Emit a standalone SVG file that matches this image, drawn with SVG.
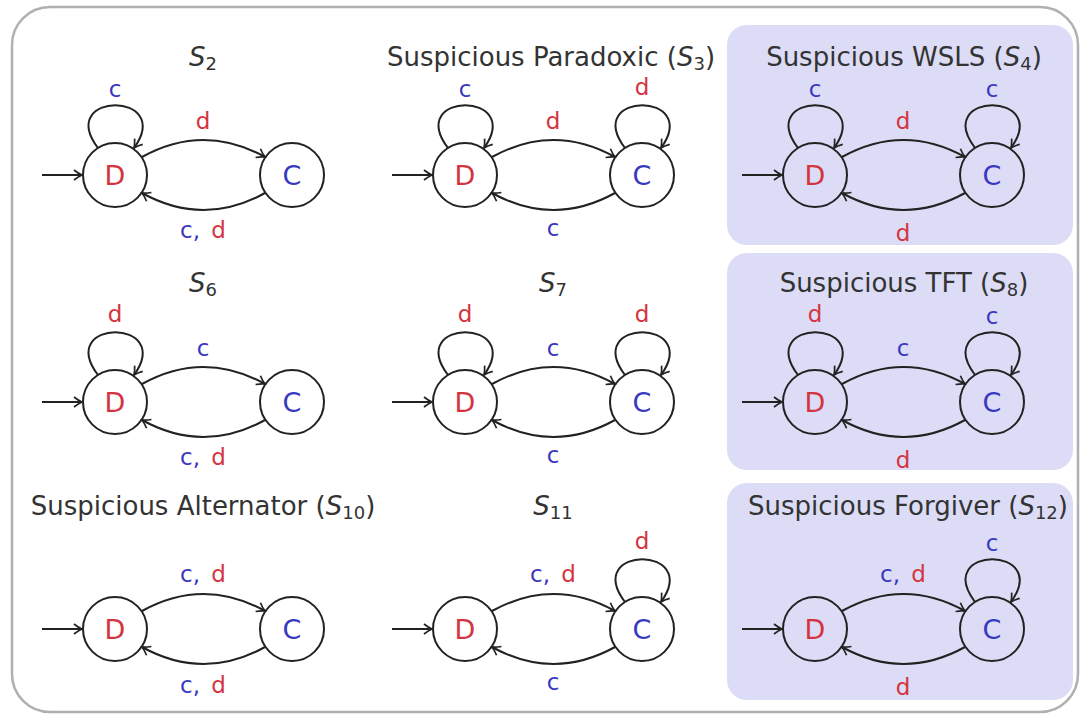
<svg xmlns="http://www.w3.org/2000/svg" width="1087" height="717" viewBox="0 0 1087 717">
<style>
.t{font-family:"DejaVu Sans","Liberation Sans",sans-serif;font-size:26px;fill:#333;text-anchor:middle}
.n{font-family:"DejaVu Sans","Liberation Sans",sans-serif;font-size:27px;text-anchor:middle}
.l{font-family:"DejaVu Sans","Liberation Sans",sans-serif;font-size:23px;text-anchor:middle}
.r{fill:#d4343f}
.b{fill:#3838c0}
.e{fill:none;stroke:#222;stroke-width:2}
.c{fill:none;stroke:#222;stroke-width:2}
.i{font-style:italic}
.box{fill:#dcdcf6}
</style>
<defs>
<marker id="ah" viewBox="-10 -7 12 14" markerWidth="12" markerHeight="14" refX="0" refY="0" orient="auto" markerUnits="userSpaceOnUse">
<path d="M-8,-5 C-4.5,-2.2 -1.7,-0.7 0,0 C-1.7,0.7 -4.5,2.2 -8,5" fill="none" stroke="#222" stroke-width="1.7"/>
</marker>
</defs>
<rect x="12" y="7" width="1066" height="705" rx="38" fill="#fff" stroke="#b0b0b0" stroke-width="2.5"/>
<rect class="box" x="727" y="25" width="346" height="220" rx="20"/>
<rect class="box" x="727" y="253" width="346" height="217" rx="20"/>
<rect class="box" x="727" y="483" width="346" height="217" rx="20"/>

<!-- S2 -->
<g id="s2" transform="translate(115,175)">
<text class="t" x="88" y="-109"><tspan class="i">S</tspan><tspan font-size="18" dy="4">2</tspan></text>
<g id="s2-D"><circle class="c" cx="0" cy="0" r="32"/><text class="n r" x="0" y="10">D</text></g>
<g id="s2-C"><circle class="c" cx="177" cy="0" r="32"/><text class="n b" x="177" y="10">C</text></g>
<g id="s2-edges">
<path class="e" d="M-73,0 L-33,0" marker-end="url(#ah)"/>
<path class="e" d="M-17,-27 C-60,-84 60,-84 19,-27" marker-end="url(#ah)"/>
<path class="e" d="M27,-18 Q88.5,-52 150,-18" marker-end="url(#ah)"/>
<path class="e" d="M150,18 Q88.5,52 27,18" marker-end="url(#ah)"/>
<text class="l b" x="0" y="-78">c</text>
<text class="l r" x="88" y="-46">d</text>
<text class="l" x="88" y="63"><tspan class="b">c, </tspan><tspan class="r" dx="4">d</tspan></text>
</g>
</g>

<!-- S3 -->
<g id="s3" transform="translate(465,175)">
<text class="t" x="86" y="-109">Suspicious Paradoxic (<tspan class="i">S</tspan><tspan font-size="18" dy="4">3</tspan><tspan dy="-4">)</tspan></text>
<g id="s3-D"><circle class="c" cx="0" cy="0" r="32"/><text class="n r" x="0" y="10">D</text></g>
<g id="s3-C"><circle class="c" cx="177" cy="0" r="32"/><text class="n b" x="177" y="10">C</text></g>
<g id="s3-edges">
<path class="e" d="M-73,0 L-33,0" marker-end="url(#ah)"/>
<path class="e" d="M-17,-27 C-60,-84 60,-84 19,-27" marker-end="url(#ah)"/>
<path class="e" d="M160,-27 C117,-84 237,-84 196,-27" marker-end="url(#ah)"/>
<path class="e" d="M27,-18 Q88.5,-52 150,-18" marker-end="url(#ah)"/>
<path class="e" d="M150,18 Q88.5,52 27,18" marker-end="url(#ah)"/>
<text class="l b" x="0" y="-78">c</text>
<text class="l r" x="177" y="-80">d</text>
<text class="l r" x="88" y="-46">d</text>
<text class="l b" x="88" y="61">c</text>
</g>
</g>

<!-- S4 -->
<g id="s4" transform="translate(815,175)">
<text class="t" x="89" y="-109">Suspicious WSLS (<tspan class="i">S</tspan><tspan font-size="18" dy="4">4</tspan><tspan dy="-4">)</tspan></text>
<g id="s4-D"><circle class="c" cx="0" cy="0" r="32"/><text class="n r" x="0" y="10">D</text></g>
<g id="s4-C"><circle class="c" cx="177" cy="0" r="32"/><text class="n b" x="177" y="10">C</text></g>
<g id="s4-edges">
<path class="e" d="M-73,0 L-33,0" marker-end="url(#ah)"/>
<path class="e" d="M-17,-27 C-60,-84 60,-84 19,-27" marker-end="url(#ah)"/>
<path class="e" d="M160,-27 C117,-84 237,-84 196,-27" marker-end="url(#ah)"/>
<path class="e" d="M27,-18 Q88.5,-52 150,-18" marker-end="url(#ah)"/>
<path class="e" d="M150,18 Q88.5,52 27,18" marker-end="url(#ah)"/>
<text class="l b" x="0" y="-78">c</text>
<text class="l b" x="177" y="-78">c</text>
<text class="l r" x="88" y="-46">d</text>
<text class="l r" x="88" y="66">d</text>
</g>
</g>

<!-- S6 -->
<g id="s6" transform="translate(115,402)">
<text class="t" x="88" y="-110"><tspan class="i">S</tspan><tspan font-size="18" dy="4">6</tspan></text>
<g id="s6-D"><circle class="c" cx="0" cy="0" r="32"/><text class="n r" x="0" y="10">D</text></g>
<g id="s6-C"><circle class="c" cx="177" cy="0" r="32"/><text class="n b" x="177" y="10">C</text></g>
<g id="s6-edges">
<path class="e" d="M-73,0 L-33,0" marker-end="url(#ah)"/>
<path class="e" d="M-17,-27 C-60,-84 60,-84 19,-27" marker-end="url(#ah)"/>
<path class="e" d="M27,-18 Q88.5,-52 150,-18" marker-end="url(#ah)"/>
<path class="e" d="M150,18 Q88.5,52 27,18" marker-end="url(#ah)"/>
<text class="l r" x="0" y="-80">d</text>
<text class="l b" x="88" y="-46">c</text>
<text class="l" x="88" y="63"><tspan class="b">c, </tspan><tspan class="r" dx="4">d</tspan></text>
</g>
</g>

<!-- S7 -->
<g id="s7" transform="translate(465,402)">
<text class="t" x="88" y="-110"><tspan class="i">S</tspan><tspan font-size="18" dy="4">7</tspan></text>
<g id="s7-D"><circle class="c" cx="0" cy="0" r="32"/><text class="n r" x="0" y="10">D</text></g>
<g id="s7-C"><circle class="c" cx="177" cy="0" r="32"/><text class="n b" x="177" y="10">C</text></g>
<g id="s7-edges">
<path class="e" d="M-73,0 L-33,0" marker-end="url(#ah)"/>
<path class="e" d="M-17,-27 C-60,-84 60,-84 19,-27" marker-end="url(#ah)"/>
<path class="e" d="M160,-27 C117,-84 237,-84 196,-27" marker-end="url(#ah)"/>
<path class="e" d="M27,-18 Q88.5,-52 150,-18" marker-end="url(#ah)"/>
<path class="e" d="M150,18 Q88.5,52 27,18" marker-end="url(#ah)"/>
<text class="l r" x="0" y="-80">d</text>
<text class="l r" x="177" y="-80">d</text>
<text class="l b" x="88" y="-46">c</text>
<text class="l b" x="88" y="61">c</text>
</g>
</g>

<!-- S8 -->
<g id="s8" transform="translate(815,402)">
<text class="t" x="89" y="-110">Suspicious TFT (<tspan class="i">S</tspan><tspan font-size="18" dy="4">8</tspan><tspan dy="-4">)</tspan></text>
<g id="s8-D"><circle class="c" cx="0" cy="0" r="32"/><text class="n r" x="0" y="10">D</text></g>
<g id="s8-C"><circle class="c" cx="177" cy="0" r="32"/><text class="n b" x="177" y="10">C</text></g>
<g id="s8-edges">
<path class="e" d="M-73,0 L-33,0" marker-end="url(#ah)"/>
<path class="e" d="M-17,-27 C-60,-84 60,-84 19,-27" marker-end="url(#ah)"/>
<path class="e" d="M160,-27 C117,-84 237,-84 196,-27" marker-end="url(#ah)"/>
<path class="e" d="M27,-18 Q88.5,-52 150,-18" marker-end="url(#ah)"/>
<path class="e" d="M150,18 Q88.5,52 27,18" marker-end="url(#ah)"/>
<text class="l r" x="0" y="-80">d</text>
<text class="l b" x="177" y="-78">c</text>
<text class="l b" x="88" y="-46">c</text>
<text class="l r" x="88" y="66">d</text>
</g>
</g>

<!-- S10 -->
<g id="s10" transform="translate(115,629)">
<text class="t" x="88" y="-114">Suspicious Alternator (<tspan class="i">S</tspan><tspan font-size="18" dy="4">10</tspan><tspan dy="-4">)</tspan></text>
<g id="s10-D"><circle class="c" cx="0" cy="0" r="32"/><text class="n r" x="0" y="10">D</text></g>
<g id="s10-C"><circle class="c" cx="177" cy="0" r="32"/><text class="n b" x="177" y="10">C</text></g>
<g id="s10-edges">
<path class="e" d="M-73,0 L-33,0" marker-end="url(#ah)"/>
<path class="e" d="M27,-18 Q88.5,-52 150,-18" marker-end="url(#ah)"/>
<path class="e" d="M150,18 Q88.5,52 27,18" marker-end="url(#ah)"/>
<text class="l" x="88" y="-47"><tspan class="b">c, </tspan><tspan class="r" dx="4">d</tspan></text>
<text class="l" x="88" y="64"><tspan class="b">c, </tspan><tspan class="r" dx="4">d</tspan></text>
</g>
</g>

<!-- S11 -->
<g id="s11" transform="translate(465,629)">
<text class="t" x="88" y="-114"><tspan class="i">S</tspan><tspan font-size="18" dy="4">11</tspan></text>
<g id="s11-D"><circle class="c" cx="0" cy="0" r="32"/><text class="n r" x="0" y="10">D</text></g>
<g id="s11-C"><circle class="c" cx="177" cy="0" r="32"/><text class="n b" x="177" y="10">C</text></g>
<g id="s11-edges">
<path class="e" d="M-73,0 L-33,0" marker-end="url(#ah)"/>
<path class="e" d="M160,-27 C117,-84 237,-84 196,-27" marker-end="url(#ah)"/>
<path class="e" d="M27,-18 Q88.5,-52 150,-18" marker-end="url(#ah)"/>
<path class="e" d="M150,18 Q88.5,52 27,18" marker-end="url(#ah)"/>
<text class="l r" x="177" y="-80">d</text>
<text class="l" x="88" y="-47"><tspan class="b">c, </tspan><tspan class="r" dx="4">d</tspan></text>
<text class="l b" x="88" y="61">c</text>
</g>
</g>

<!-- S12 -->
<g id="s12" transform="translate(815,629)">
<text class="t" x="93" y="-114">Suspicious Forgiver (<tspan class="i">S</tspan><tspan font-size="18" dy="4">12</tspan><tspan dy="-4">)</tspan></text>
<g id="s12-D"><circle class="c" cx="0" cy="0" r="32"/><text class="n r" x="0" y="10">D</text></g>
<g id="s12-C"><circle class="c" cx="177" cy="0" r="32"/><text class="n b" x="177" y="10">C</text></g>
<g id="s12-edges">
<path class="e" d="M-73,0 L-33,0" marker-end="url(#ah)"/>
<path class="e" d="M160,-27 C117,-84 237,-84 196,-27" marker-end="url(#ah)"/>
<path class="e" d="M27,-18 Q88.5,-52 150,-18" marker-end="url(#ah)"/>
<path class="e" d="M150,18 Q88.5,52 27,18" marker-end="url(#ah)"/>
<text class="l b" x="177" y="-78">c</text>
<text class="l" x="88" y="-47"><tspan class="b">c, </tspan><tspan class="r" dx="4">d</tspan></text>
<text class="l r" x="88" y="66">d</text>
</g>
</g>
</svg>
